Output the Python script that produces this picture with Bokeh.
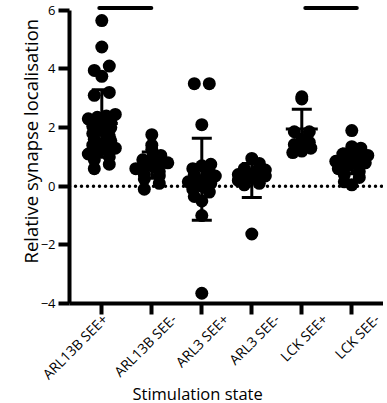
import math
from bokeh.plotting import figure
from bokeh.models import Range1d, FixedTicker, Span, Title, LinearAxis
from bokeh.embed import file_html
from bokeh.resources import INLINE

# ---------------- data ----------------
categories = ["ARL13B SEE+", "ARL13B SEE-", "ARL3 SEE+", "ARL3 SEE-", "LCK SEE+", "LCK SEE-"]

arl13b_see_pos = [5.65, 4.75, 4.10, 3.95, 3.75, 3.20, 3.10, 2.45, 2.40, 2.35, 2.30, 2.20,
                  2.15, 2.05, 2.00, 1.90, 1.80, 1.70, 1.60, 1.55, 1.45, 1.40, 1.30, 1.25,
                  1.20, 1.10, 1.00, 0.90, 0.75, 0.60]
arl13b_see_neg = [1.76, 1.40, 1.25, 1.05, 0.95, 0.90, 0.80, 0.75, 0.70, 0.65, 0.60, 0.50,
                  0.40, 0.35, 0.25, 0.10, -0.10]
arl3_see_pos = [3.50, 3.50, 2.10, 0.75, 0.70, 0.60, 0.50, 0.40, 0.35, 0.30, 0.20, 0.15,
                0.10, 0.00, -0.10, -0.20, -0.35, -0.50, -1.00, -3.65]
arl3_see_neg = [0.95, 0.78, 0.60, 0.55, 0.50, 0.45, 0.40, 0.35, 0.30, 0.25, 0.20, 0.10,
                0.05, -1.63]
lck_see_pos = [3.05, 2.98, 1.86, 1.86, 1.60, 1.50, 1.42, 1.30, 1.20, 1.15]
lck_see_neg = [1.90, 1.35, 1.30, 1.20, 1.10, 1.05, 1.00, 0.95, 0.90, 0.85, 0.80, 0.75,
               0.70, 0.60, 0.50, 0.40, 0.30, 0.15, 0.05]

group_values = [arl13b_see_pos, arl13b_see_neg, arl3_see_pos, arl3_see_neg, lck_see_pos, lck_see_neg]

means = [2.14, 0.72, 0.24, 0.20, 1.95, 0.85]
sds = [1.15, 0.45, 1.40, 0.58, 0.68, 0.42]

y_ticks = [-4, -2, 0, 2, 4, 6]

# significance bars (category index units)
sig_from = [0.95, 5.07]
sig_to = [1.99, 6.10]
sig_level = [6.08, 6.08]

# ---------------- layout constants ----------------
W, H = 383, 403
BL, BT, BB = 69, 4, 100
X0, X1 = 0.354, 6.634
Y0, Y1 = -4.0, 6.2
frame_w = W - BL
frame_h = H - BT - BB
px_x = frame_w / (X1 - X0)
px_y = frame_h / (Y1 - Y0)
# horizontal pixel distance between each tick and the end of its rotated label
label_end_px = [3, 22, 24, 25, 23, 25]

def swarm_offsets(vals, row_h=7.0, sep=9.0, half_w=16.0):
    rows = {}
    for i, v in enumerate(vals):
        r = int(round(v * px_y / row_h))
        rows.setdefault(r, []).append(i)
    offs = [0.0] * len(vals)
    for r, idx in rows.items():
        n = len(idx)
        if n == 1:
            continue
        s = min(sep if n > 2 else 15.0, 2 * half_w / (n - 1))
        idx_sorted = sorted(idx, key=lambda i: vals[i])
        for k, i in enumerate(idx_sorted):
            offs[i] = (k - (n - 1) / 2) * s / px_x
    return offs

FONT = "Open Sans"

p = figure(width=W, height=H, x_range=Range1d(X0, X1), y_range=Range1d(Y0, Y1),
           output_backend="svg", toolbar_location=None,
           min_border_left=BL, min_border_right=0, min_border_top=BT, min_border_bottom=BB)
p.outline_line_color = None
p.xgrid.visible = False
p.ygrid.visible = False
p.background_fill_color = "white"
p.border_fill_color = "white"

# points
xs, ys = [], []
for gi, vals in enumerate(group_values):
    offs = swarm_offsets(vals)
    xs += [gi + 1 + o for o in offs]
    ys += list(vals)
p.scatter(xs, ys, size=13, fill_color="black", line_color="black", line_width=0)

pos = list(range(1, len(categories) + 1))
lo = [m - s for m, s in zip(means, sds)]
hi = [m + s for m, s in zip(means, sds)]
cap_hw = 10 / px_x
mean_hw = 16 / px_x
p.segment(x0=pos, y0=lo, x1=pos, y1=hi, line_color="black", line_width=3)
p.segment(x0=[x - cap_hw for x in pos], y0=hi, x1=[x + cap_hw for x in pos], y1=hi,
          line_color="black", line_width=3)
p.segment(x0=[x - cap_hw for x in pos], y0=lo, x1=[x + cap_hw for x in pos], y1=lo,
          line_color="black", line_width=3)
p.segment(x0=[x - mean_hw for x in pos], y0=means, x1=[x + mean_hw for x in pos], y1=means,
          line_color="black", line_width=3)

# significance bars
p.segment(x0=sig_from, y0=sig_level, x1=sig_to, y1=sig_level, line_color="black",
          line_width=4, line_cap="round")

# dotted zero line
p.add_layout(Span(location=0, dimension="width", line_color="black", line_width=3.5,
                  line_dash="0 6", line_cap="round"))

# axes
p.yaxis.ticker = FixedTicker(ticks=y_ticks)
p.yaxis.bounds = (-4, 6)
p.xaxis.ticker = FixedTicker(ticks=pos)
for ax in (p.xaxis[0], p.yaxis[0]):
    ax.axis_line_width = 4
    ax.axis_line_color = "black"
    ax.major_tick_line_width = 4
    ax.major_tick_line_color = "black"
    ax.major_tick_out = 11
    ax.major_tick_in = 0
    ax.minor_tick_line_color = None
p.yaxis.major_label_text_font = FONT
p.yaxis.major_label_text_font_size = "13px"
p.yaxis.major_label_text_color = "black"
p.yaxis.major_label_standoff = 3
p.xaxis.major_label_text_font_size = "0px"
p.xaxis.major_label_standoff = 0
p.xaxis.major_label_overrides = {i: "" for i in pos}

# rotated category labels on a label-only axis (label ends placed right of each tick)
lab_ticks = [x + d / px_x for x, d in zip(pos, label_end_px)]
lab_axis = LinearAxis(ticker=FixedTicker(ticks=lab_ticks),
                      major_label_overrides={t: c for t, c in zip(lab_ticks, categories)},
                      major_label_orientation=math.pi / 4,
                      axis_line_color=None, major_tick_line_color=None,
                      minor_tick_line_color=None, major_tick_out=0, major_tick_in=0,
                      major_label_standoff=2,
                      major_label_text_font=FONT, major_label_text_font_size="14px",
                      major_label_text_color="black")
p.add_layout(lab_axis, "below")

# axis titles
p.add_layout(Title(text="Stimulation state", align="left", vertical_align="top",
                   offset=63, standoff=-22,
                   text_font=FONT, text_font_size="16.5px", text_font_style="normal",
                   text_color="black"), "below")
p.add_layout(Title(text="Relative synapse localisation", align="left", offset=40,
                   standoff=-10, text_font=FONT, text_font_size="18.5px",
                   text_font_style="normal", text_color="black"), "left")

open("out.html", "w").write(file_html(p, INLINE))
